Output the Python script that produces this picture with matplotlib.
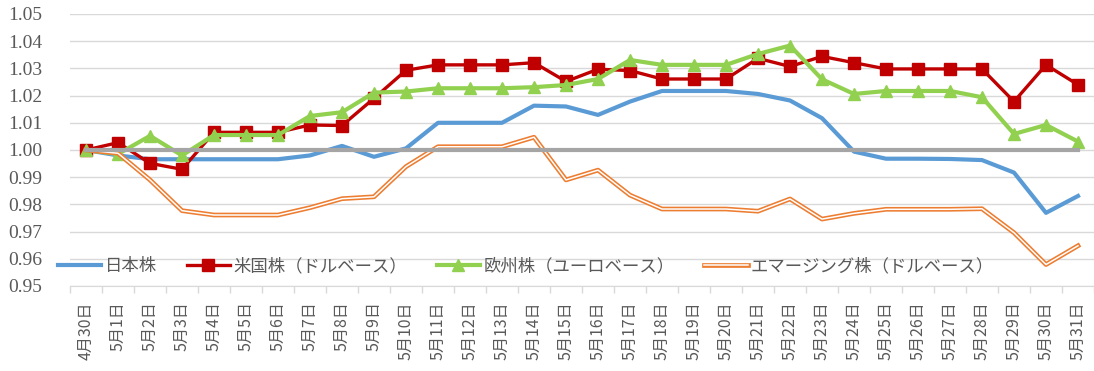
import numpy as np
import matplotlib.pyplot as plt
import matplotlib.patheffects as pe

plt.rcParams['font.family'] = ['Noto Sans CJK JP', 'DejaVu Sans']

# data
dates = ['4月30日'] + [f'5月{d}日' for d in range(1, 32)]
japan = [1.000, 0.998, 0.9966, 0.9966, 0.9966, 0.9966, 0.9966, 0.998, 1.0015, 0.9975,
         1.0006, 1.010, 1.010, 1.010, 1.0163, 1.016, 1.0129, 1.0178, 1.0217, 1.0217,
         1.0217, 1.0206, 1.0182, 1.0117, 0.9994, 0.9968, 0.9968, 0.9967, 0.9963, 0.9917,
         0.9769, 0.9831]
us = [1.000, 1.0027, 0.9951, 0.9929, 1.0065, 1.0065, 1.0065, 1.0092, 1.009, 1.019,
      1.0293, 1.0313, 1.0313, 1.0313, 1.0321, 1.0252, 1.0297, 1.0292, 1.0261, 1.0261,
      1.0261, 1.0337, 1.0307, 1.0344, 1.0321, 1.0298, 1.0298, 1.0298, 1.0298, 1.0178,
      1.0313, 1.024]
europe = [1.000, 0.9985, 1.0052, 0.998, 1.0055, 1.0055, 1.0055, 1.0125, 1.0139, 1.0211,
          1.0215, 1.0227, 1.0227, 1.0227, 1.0231, 1.0239, 1.0261, 1.0331, 1.0313, 1.0313,
          1.0313, 1.0353, 1.0384, 1.026, 1.0206, 1.0217, 1.0217, 1.0217, 1.0194, 1.0059,
          1.0092, 1.0031]
emerging = [1.000, 0.9988, 0.989, 0.9777, 0.9761, 0.9761, 0.9761, 0.9788, 0.9821, 0.9828,
            0.9939, 1.0012, 1.0012, 1.0012, 1.0047, 0.989, 0.9926, 0.9834, 0.9783, 0.9783,
            0.9783, 0.9775, 0.982, 0.9746, 0.9767, 0.9782, 0.9782, 0.9782, 0.9784, 0.9696,
            0.9579, 0.9648]
base = [1.0] * len(dates)

x = np.arange(len(dates))
txt = '#595959'

fig = plt.figure(figsize=(10.94, 3.71), dpi=100)
ax = fig.add_axes([70/1094, 85/371, 1024/1094, 272/371])

ax.plot(x, japan, color='#5b9bd5', lw=3, label='日本株', zorder=3)
ax.plot(x, us, color='#c00000', lw=2.4, marker='s', markersize=9,
        label='米国株（ドルベース）', zorder=3)
ax.plot(x, europe, color='#92d050', lw=3, marker='^', markersize=9,
        label='欧州株（ユーロベース）', zorder=3)
ax.plot(x, emerging, color='white', lw=1.1, label='エマージング株（ドルベース）', zorder=3,
        path_effects=[pe.Stroke(linewidth=3.4, foreground='#ed7d31'), pe.Normal()])
ax.plot(x, base, color='#a5a5a5', lw=3, zorder=3.5)

ax.set_xlim(-0.5, len(dates) - 0.5)
ax.set_ylim(0.95, 1.05)
ax.set_yticks(np.arange(0.95, 1.0501, 0.01))
ax.set_yticklabels([f'{v:.2f}' for v in np.arange(0.95, 1.0501, 0.01)],
                   family='Liberation Serif', fontsize=14, color=txt)
ax.set_xticks(x)
ax.set_xticklabels(dates, rotation=90, va='top', fontsize=11.5, color=txt)
ax.set_xticks(np.arange(-0.5, len(dates)), minor=True)

ax.tick_params(axis='y', length=0, pad=20)
ax.tick_params(axis='x', which='major', length=0, pad=11)
ax.tick_params(axis='x', which='minor', length=5, color='#d9d9d9', width=1)
ax.grid(axis='y', color='#d9d9d9', lw=1)
ax.set_axisbelow(True)
for s in ['left', 'right', 'top']:
    ax.spines[s].set_visible(False)
ax.spines['bottom'].set_color('#d9d9d9')

fig.legend(loc='center left', bbox_to_anchor=(58/1094, 1 - 266/371), ncol=4,
           frameon=False, fontsize=12.5, labelcolor=txt, handlelength=2.5,
           handletextpad=0.2, columnspacing=1.7, borderpad=0, borderaxespad=0)

fig.savefig('out.png', dpi=100)
